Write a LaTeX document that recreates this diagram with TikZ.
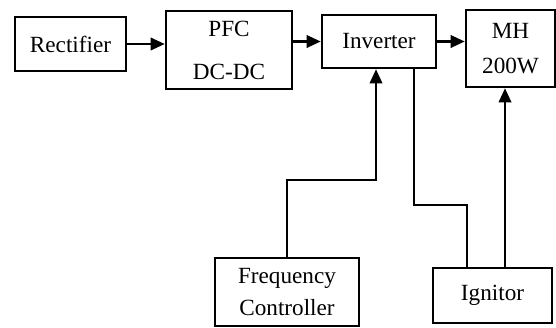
\documentclass[tikz,border=0pt]{standalone}
\usepackage{fontspec}
\setmainfont{Liberation Serif}
\usepackage{tikz}
\pgfdeclarelayer{nodelayer}
\pgfdeclarelayer{edgelayer}
\pgfsetlayers{edgelayer,nodelayer,main}
\usetikzlibrary{arrows.meta}
\tikzset{
	block/.style={draw,line width=1.4pt,inner sep=0pt,align=center,font=\fontsize{13.2}{15.5}\selectfont},
	link/.style={line width=1.4pt},
	flow/.style={link,-{Triangle[length=8pt,width=7pt]}}
}

\begin{document}
\begin{tikzpicture}
	\useasboundingbox (0, 0) rectangle (11.12, 6.54);
	\begin{pgfonlayer}{nodelayer}
		\node [block,minimum width=2.22cm,minimum height=1.08cm] (0) at (1.41, 5.66) {Rectifier};
		\node [block,minimum width=2.52cm,minimum height=1.56cm] (1) at (4.58, 5.54) {\raisebox{-2pt}{PFC}\\[11pt]DC-DC};
		\node [block,minimum width=2.28cm,minimum height=1.06cm] (2) at (7.58, 5.71) {Inverter};
		\node [block,minimum width=1.78cm,minimum height=1.54cm] (3) at (10.21, 5.57) {MH\\[4pt]200W};
		\node [block,minimum width=2.88cm,minimum height=1.36cm] (4) at (5.74, 0.70) {Frequency\\[3pt]Controller};
		\node [block,minimum width=2.38cm,minimum height=1.10cm] (5) at (9.85, 0.63) {Ignitor};
		\coordinate (6) at (7.52, 2.94);
		\coordinate (7) at (8.28, 2.44);
		\coordinate (8) at (9.34, 2.44);
		\coordinate (9) at (10.10, 1.18);
	\end{pgfonlayer}
	\begin{pgfonlayer}{edgelayer}
		\draw [flow] (0.east) to (0.east -| 1.west);
		\draw [flow] (1.east |- 2.west) to (2.west);
		\draw [flow] (2.east) to (2.east -| 3.west);
		\draw [flow] (4.north) |- (6) to (6 |- 2.south);
		\draw [link] (7 |- 2.south) to (7) to (8) to (8 |- 5.north);
		\draw [flow] (9 |- 5.north) to (9 |- 3.south);
	\end{pgfonlayer}
\end{tikzpicture}
\end{document}
